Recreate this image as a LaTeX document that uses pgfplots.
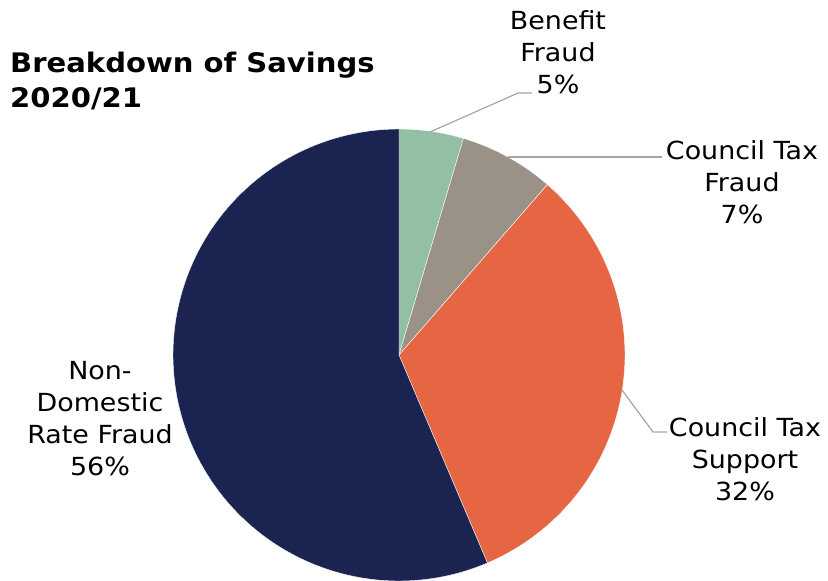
\documentclass[border=0pt]{standalone}
\usepackage{pgfplots}
\usepackage{pgfplotstable}
\pgfplotsset{compat=1.18}
\usepackage{fontspec}
\setmainfont{DejaVu Sans}[FakeStretch=1.08]
\definecolor{cBen}{HTML}{93C0A4}
\definecolor{cCTF}{HTML}{9A9187}
\definecolor{cCTS}{HTML}{E66543}
\definecolor{cNDR}{HTML}{1B2450}
\definecolor{cLead}{HTML}{A6A6A6}
\pgfplotstableread{
name value
Benefit 4.6
CTFraud 6.8
CTSupport 32.2
NDR 56.4
}\pietable
\pgfplotstablegetelem{0}{value}\of\pietable \let\vA\pgfplotsretval
\pgfplotstablegetelem{1}{value}\of\pietable \let\vB\pgfplotsretval
\pgfplotstablegetelem{2}{value}\of\pietable \let\vC\pgfplotsretval
\pgfplotstablegetelem{3}{value}\of\pietable \let\vD\pgfplotsretval
\pgfmathsetmacro\aO{90}
\pgfmathsetmacro\aA{90-3.6*\vA}
\pgfmathsetmacro\aB{\aA-3.6*\vB}
\pgfmathsetmacro\aC{\aB-3.6*\vC}
\pgfmathsetmacro\aD{\aC-3.6*\vD}
\def\cx{399}\def\cy{226}\def\rr{226}
\begin{document}
\begin{tikzpicture}
\begin{axis}[x=1bp, y=1bp, xmin=0, xmax=828, ymin=0, ymax=581,
  hide axis, scale only axis, clip=false, anchor=south west, at={(0,0)}]
\addplot[fill=cBen, draw=white, line width=0.4bp, domain=\aA:\aO, samples=40] ({\cx+\rr*cos(x)},{\cy+\rr*sin(x)}) -- (axis cs:\cx,\cy) -- cycle;
\addplot[fill=cCTF, draw=white, line width=0.4bp, domain=\aB:\aA, samples=40] ({\cx+\rr*cos(x)},{\cy+\rr*sin(x)}) -- (axis cs:\cx,\cy) -- cycle;
\addplot[fill=cCTS, draw=white, line width=0.4bp, domain=\aC:\aB, samples=100] ({\cx+\rr*cos(x)},{\cy+\rr*sin(x)}) -- (axis cs:\cx,\cy) -- cycle;
\addplot[fill=cNDR, draw=white, line width=0.4bp, domain=\aD:\aC, samples=160] ({\cx+\rr*cos(x)},{\cy+\rr*sin(x)}) -- (axis cs:\cx,\cy) -- cycle;
% leader lines
\addplot[cLead, line width=1.2bp, no marks] coordinates {(430,449) (518,488) (532,488)};
\addplot[cLead, line width=1.2bp, no marks] coordinates {(508,424) (662,424)};
\addplot[cLead, line width=1.2bp, no marks] coordinates {(622,191) (653,149) (667,149)};
% labels
\node[align=center, font=\fontsize{25}{32}\selectfont] at (axis cs:558,529) {Benefit\\Fraud\\5\%};
\node[align=center, font=\fontsize{25}{32}\selectfont] at (axis cs:742,399) {Council Tax\\Fraud\\7\%};
\node[align=center, font=\fontsize{25}{32}\selectfont] at (axis cs:745,122) {Council Tax\\Support\\32\%};
\node[align=center, font=\fontsize{25}{32}\selectfont] at (axis cs:100,162.5) {Non-\\Domestic\\Rate Fraud\\56\%};
\node[align=left, anchor=north west, inner sep=0pt, font=\bfseries\fontsize{27}{35}\selectfont] at (axis cs:10,529) {Breakdown of Savings\\2020/21};
\end{axis}
\pgfresetboundingbox
\path (0,0) rectangle (828bp,581bp);
\end{tikzpicture}
\end{document}
